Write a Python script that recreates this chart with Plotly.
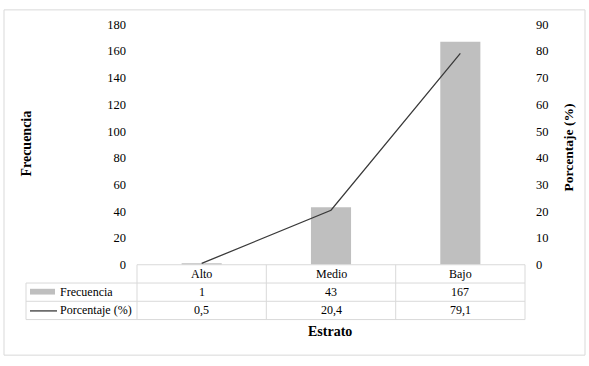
import plotly.graph_objects as go

categories = ["Alto", "Medio", "Bajo"]
frecuencia = [1, 43, 167]
porcentaje = [0.5, 20.4, 79.1]
porcentaje_labels = ["0,5", "20,4", "79,1"]
series_names = ["Frecuencia", "Porcentaje (%)"]
left_ticks = [0, 20, 40, 60, 80, 100, 120, 140, 160, 180]
right_ticks = [0, 10, 20, 30, 40, 50, 60, 70, 80, 90]

W, H = 589, 366
FONT = "Liberation Serif"
GRID = "#d9d9d9"
BAR = "#bfbfbf"
LINE = "#3a3a3a"

def px(x):
    return x / W

def py(y):
    return (H - y) / H

x_left, x_right = 137, 525
y_zero, y_top = 268, 18

fig = go.Figure()
fig.add_trace(go.Bar(x=categories, y=frecuencia, name=series_names[0],
                     marker=dict(color=BAR, line=dict(width=0)),
                     width=0.31, yaxis="y", showlegend=False))
fig.add_trace(go.Scatter(x=categories, y=porcentaje, name=series_names[1],
                         mode="lines", line=dict(color=LINE, width=1.3),
                         yaxis="y2", showlegend=False))

shapes = []
def hline(x0, x1, y):
    shapes.append(dict(type="line", xref="paper", yref="paper",
                       x0=px(x0), x1=px(x1), y0=py(y), y1=py(y),
                       line=dict(color=GRID, width=1)))
def vline(x, y0, y1):
    shapes.append(dict(type="line", xref="paper", yref="paper",
                       x0=px(x), x1=px(x), y0=py(y0), y1=py(y1),
                       line=dict(color=GRID, width=1)))

# outer border
shapes.append(dict(type="rect", xref="paper", yref="paper",
                   x0=px(4), x1=px(585), y0=py(362), y1=py(3),
                   line=dict(color=GRID, width=1)))

rows = [268, 287, 306, 325]
cols = [137, 266.3, 395.7, 525]
hline(137, 525, rows[0])
for r in rows[1:]:
    hline(26, 525, r)
vline(26, rows[1], rows[3])
for c in cols:
    vline(c, rows[0], rows[3])

# legend swatches
shapes.append(dict(type="rect", xref="paper", yref="paper",
                   x0=px(30), x1=px(55), y0=py(299), y1=py(293),
                   fillcolor=BAR, line=dict(width=0)))
shapes.append(dict(type="line", xref="paper", yref="paper",
                   x0=px(30), x1=px(57), y0=py(316), y1=py(316),
                   line=dict(color=LINE, width=1.3)))

annotations = []
def text(x, y, s, size=12, bold=False, xanchor="center", angle=0):
    annotations.append(dict(x=px(x), y=py(y), xref="paper", yref="paper",
                            text=f"<b>{s}</b>" if bold else s,
                            showarrow=False, xanchor=xanchor, yanchor="middle",
                            textangle=angle,
                            font=dict(family=FONT, size=size, color="#000000")))

centers = [(cols[i] + cols[i + 1]) / 2 for i in range(3)]
for i, c in enumerate(categories):
    text(centers[i], 277.5, c)
    text(centers[i], 296.5, str(frecuencia[i]))
    text(centers[i], 315.5, porcentaje_labels[i])
text(58, 296.5, series_names[0], xanchor="left")
text(58, 315.5, series_names[1], xanchor="left")

text(27, 142, "Frecuencia", size=14, bold=True, angle=-90)
text(568, 146, "Porcentaje (%)", size=13.5, bold=True, angle=-90)
text(330, 337, "Estrato", size=14, bold=True)

fig.update_layout(
    width=W, height=H,
    margin=dict(l=0, r=0, t=0, b=0),
    paper_bgcolor="white", plot_bgcolor="white",
    font=dict(family=FONT, size=12, color="#000000"),
    xaxis=dict(domain=[px(x_left), px(x_right)], showticklabels=False,
               showgrid=False, zeroline=False, showline=False, ticks=""),
    yaxis=dict(domain=[py(y_zero), py(y_top)], range=[0, 180],
               tickvals=left_ticks, showgrid=False, zeroline=False,
               showline=False, ticks="", ticklabelstandoff=10,
               tickfont=dict(family=FONT, size=12.5, color="#000000")),
    yaxis2=dict(overlaying="y", side="right", range=[0, 90],
                tickvals=right_ticks, showgrid=False, zeroline=False,
                showline=False, ticks="", ticklabelstandoff=10,
                tickfont=dict(family=FONT, size=12.5, color="#000000")),
    shapes=shapes,
    annotations=annotations,
    showlegend=False,
)

fig.write_html("out.html",
               config={"displayModeBar": False},
               post_script="document.body.style.margin='0';document.body.style.overflow='hidden';")
